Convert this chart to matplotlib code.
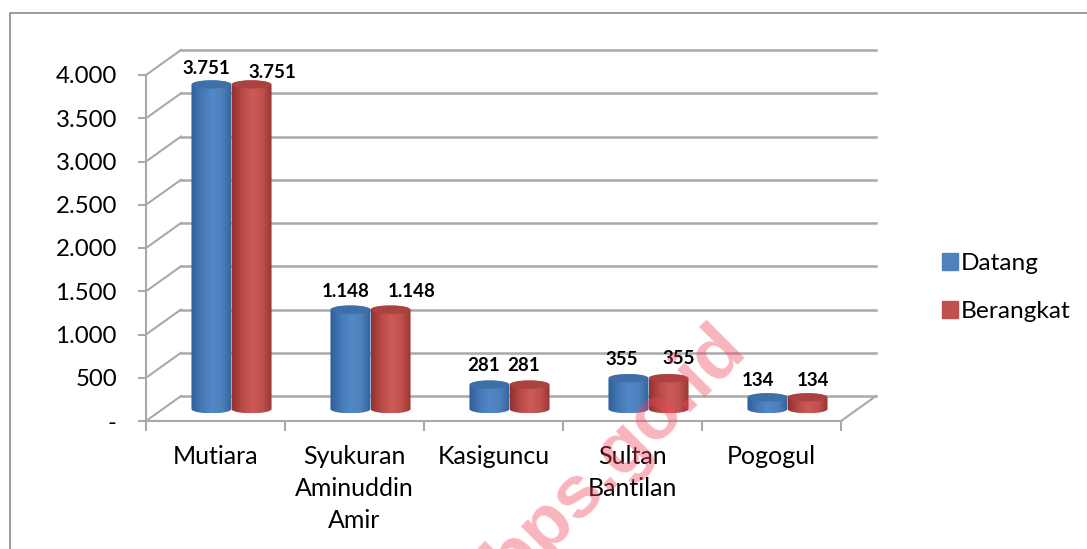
import numpy as np
import matplotlib
matplotlib.use('Agg')
import matplotlib.pyplot as plt
from matplotlib.colors import LinearSegmentedColormap
from matplotlib.lines import Line2D
from matplotlib.patches import Ellipse, Patch, Polygon
from matplotlib.transforms import ScaledTranslation

plt.rcParams['font.family'] = ['Lato', 'DejaVu Sans']

categories = ['Mutiara', 'Syukuran\nAminuddin\nAmir', 'Kasiguncu', 'Sultan\nBantilan', 'Pogogul']
datang = [3751, 1148, 281, 355, 134]
berangkat = [3751, 1148, 281, 355, 134]
value_labels = ['3.751', '1.148', '281', '355', '134']
y_ticks = [0, 500, 1000, 1500, 2000, 2500, 3000, 3500, 4000]
y_tick_labels = ['-', '500', '1.000', '1.500', '2.000', '2.500', '3.000', '3.500', '4.000']

W, H = 1087, 549
GREY = '#a9a9a9'

fig = plt.figure(figsize=(W / 100, H / 100), dpi=100, facecolor='white')
ax = fig.add_axes([146 / W, 1 - 421 / H, 695 / W, 346 / H])
ax.set_xlim(0, 5)
ax.set_ylim(0, 4000)
ax.set_autoscale_on(False)
ax.patch.set_alpha(0)


def shifted(dx, dy):
    # pixels to the right / up, for the fake 3d depth
    return ax.transData + ScaledTranslation(dx / 100, dy / 100, fig.dpi_scale_trans)


back = shifted(35, 25)
mid = shifted(16, 12)

# back wall, floor edges
for v in y_ticks:
    ax.plot([0, 5], [v, v], color=GREY, lw=1.8, transform=back, clip_on=False, zorder=1)
    x0, y0 = ax.transData.transform((0, v))
    x1, y1 = back.transform((0, v))
    fig.add_artist(Line2D([x0 / W, x1 / W], [y0 / H, y1 / H], color=GREY, lw=1.5, zorder=0.5))
x0, y0 = ax.transData.transform((5, 0))
x1, y1 = back.transform((5, 0))
fig.add_artist(Line2D([x0 / W, x1 / W], [y0 / H, y1 / H], color=GREY, lw=1.5, zorder=0.5))

for s in ['top', 'right']:
    ax.spines[s].set_visible(False)
for s in ['left', 'bottom']:
    ax.spines[s].set_color(GREY)
    ax.spines[s].set_linewidth(1.5)

ax.set_yticks(y_ticks)
ax.set_yticklabels(y_tick_labels)
ax.tick_params(axis='y', length=6, width=1.5, color=GREY, labelsize=17.3, pad=15, labelcolor='black')
ax.set_xticks(range(6))
ax.set_xticklabels([])
ax.tick_params(axis='x', which='major', length=7, width=1.5, color=GREY)
ax.set_xticks(np.arange(5) + 0.5, minor=True)
ax.set_xticklabels(categories, minor=True, fontsize=18, linespacing=1.47)
ax.tick_params(axis='x', which='minor', length=0, pad=17.5)

blue_map = LinearSegmentedColormap.from_list('b', ['#2f5f99', '#4477b4', '#5288c8', '#4f81bd', '#33639c'])
red_map = LinearSegmentedColormap.from_list('r', ['#93322f', '#b84a47', '#cc5b57', '#c0504d', '#963431'])
gradient = np.linspace(0, 1, 64).reshape(1, -1)

bar_w = 0.288
cap_h = 50


def cylinder(x, value, cmap, cap_color):
    t = np.linspace(0, np.pi, 40)
    xc = x + bar_w / 2
    lower = np.column_stack([xc - np.cos(t) * bar_w / 2, -np.sin(t) * cap_h])
    upper = np.column_stack([xc + np.cos(t) * bar_w / 2, value + np.sin(t) * cap_h])
    body = Polygon(np.vstack([lower, upper]), closed=True, transform=mid)
    im = ax.imshow(gradient, extent=(x, x + bar_w, -cap_h, value + cap_h), aspect='auto',
                   cmap=cmap, transform=mid, zorder=3, interpolation='bilinear')
    im.set_clip_path(body)
    cap = Ellipse((xc, value), bar_w * 0.97, cap_h * 1.9, facecolor=cap_color, edgecolor='none',
                  transform=mid, zorder=3.1)
    ax.add_patch(cap)


for i in range(len(categories)):
    cylinder(i + 0.5 - bar_w, datang[i], blue_map, '#3f6fa9')
    cylinder(i + 0.5, berangkat[i], red_map, '#aa4340')
ax.set_xlim(0, 5)
ax.set_ylim(0, 4000)

# value labels, hand placed like the original chart
blue_label_off = [(-25, 16), (-25, 18), (-26, 19), (-27, 19), (-30, 17)]
red_label_off = [(41, 12), (41, 18), (14, 19), (30, 20), (25, 17)]
for i in range(len(categories)):
    ax.annotate(value_labels[i], (i + 0.5, datang[i]), xycoords=mid, xytext=blue_label_off[i],
                textcoords='offset pixels', ha='center', va='center', fontsize=13.5,
                fontweight='bold', zorder=4)
    ax.annotate(value_labels[i], (i + 0.5, berangkat[i]), xycoords=mid, xytext=red_label_off[i],
                textcoords='offset pixels', ha='center', va='center', fontsize=13.5,
                fontweight='bold', zorder=4)

# outer chart border
fig.add_artist(Line2D([10 / W, 10 / W, 1], [0, 1 - 13 / H, 1 - 13 / H], color='#8c8c8c', lw=1.2))

fig.legend(handles=[Patch(color='#4f81bd', label='Datang'), Patch(color='#c0504d', label='Berangkat')],
           loc='center left', bbox_to_anchor=(935 / W, 1 - 287.5 / H), frameon=False, fontsize=17.6,
           handlelength=0.65, handleheight=0.65, handletextpad=0.12, labelspacing=1.1,
           borderpad=0.3, borderaxespad=0)

fig.text(711 / W, 1 - 316 / H, 'www.bps.go.id', rotation=45, rotation_mode='anchor', ha='right', va='top',
         fontsize=54, fontweight='bold', family='Liberation Sans', color='#f0455a', alpha=0.4, zorder=10)

fig.savefig('out.png', dpi=100)
